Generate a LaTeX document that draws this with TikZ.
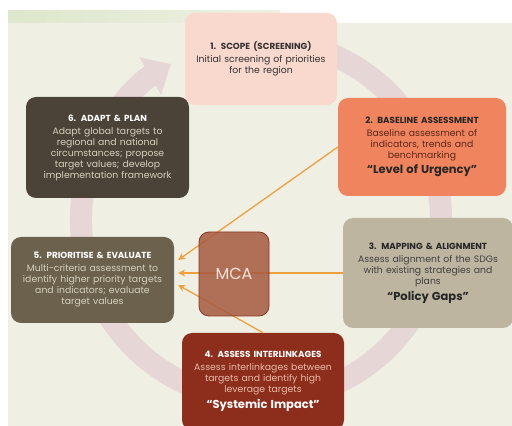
\documentclass[tikz,border=0pt]{standalone}
\usepackage{fontspec}
\setmainfont{Poppins}
\usetikzlibrary{arrows.meta}

\definecolor{bgc}{HTML}{EFF0E3}
\definecolor{topgreen}{HTML}{DDE7CC}
\definecolor{ringc}{HTML}{E6D6D6}
\definecolor{flowc}{HTML}{EFA03C}
\definecolor{scopec}{HTML}{F9D8CD}
\definecolor{basec}{HTML}{F0845F}
\definecolor{basetxt}{HTML}{5A2818}
\definecolor{mapc}{HTML}{BEB5A0}
\definecolor{interc}{HTML}{8C2E1B}
\definecolor{intertxt}{HTML}{E6BBAA}
\definecolor{prioc}{HTML}{6B614D}
\definecolor{adaptc}{HTML}{4B4337}
\definecolor{softtxt}{HTML}{D6D0BE}
\definecolor{mcac}{HTML}{A65A40}
\definecolor{mcaline}{HTML}{8A3520}
\definecolor{mcatxt}{HTML}{F4E4DC}

\newcommand{\headfont}{\fontsize{8.8}{11}\selectfont\bfseries}
\newcommand{\quotefont}{\fontsize{11.5}{13}\selectfont\bfseries}

\begin{document}
\begin{tikzpicture}[x=1pt,y=1pt,
  stage/.style={rounded corners=10pt, align=center, inner xsep=3pt, inner ysep=2pt,
    font=\fontsize{9.3}{11}\selectfont},
  flow/.style={draw=flowc, line width=1.3pt, -{Stealth[length=7pt,width=7pt]}},
  ring/.style={draw=ringc, line width=22pt, -{Triangle[width=42pt,length=24pt]}}]

\useasboundingbox (0,0) rectangle (512,426);
\fill[bgc] (8,0) rectangle (512,403);
\fill[left color=topgreen, right color=bgc] (8,403) rectangle (280,415);

% cycle
\draw[ring] (261,206) ++(70:180) arc[start angle=70, end angle=-240, radius=180];

\node[stage, fill=scopec, text=black!80, minimum width=152pt, minimum height=92pt, text width=146pt]
  (scope) at (261,367)
  {{\headfont 1. SCOPE (SCREENING)}\\[2pt]
   Initial screening of priorities\\for the region};

\node[stage, fill=basec, text=black!85, minimum width=168pt, minimum height=98pt, text width=162pt]
  (base) at (422,279)
  {{\headfont 2. BASELINE ASSESSMENT}\\[2pt]
   {\color{basetxt}Baseline assessment of\\indicators, trends and\\benchmarking}\\[3pt]
   {\quotefont “Level of Urgency”}};

\node[stage, fill=mapc, text=black!85, minimum width=170pt, minimum height=110pt, text width=164pt]
  (map) at (428,153)
  {{\headfont 3. MAPPING \& ALIGNMENT}\\[2pt]
   {\color{black!75}Assess alignment of the SDGs\\with existing strategies and\\plans}\\[3pt]
   {\quotefont “Policy Gaps”}};

\node[stage, fill=interc, text=white, minimum width=162pt, minimum height=97pt, text width=156pt]
  (inter) at (263,44.5)
  {{\headfont 4. ASSESS INTERLINKAGES}\\[2pt]
   {\color{intertxt}Assess interlinkages between\\targets and identify high\\leverage targets}\\[3pt]
   {\quotefont “Systemic Impact”}};

\node[stage, fill=prioc, text=white, minimum width=163pt, minimum height=86pt, text width=157pt]
  (prio) at (92.5,146)
  {{\headfont 5. PRIORITISE \& EVALUATE}\\[2pt]
   {\color{softtxt}Multi-criteria assessment to\\identify higher priority targets\\and indicators; evaluate\\target values}};

\node[stage, fill=adaptc, text=white, minimum width=163pt, minimum height=101pt, text width=157pt]
  (adapt) at (107.5,278.5)
  {{\headfont 6. ADAPT \& PLAN}\\[2pt]
   {\color{softtxt}Adapt global targets to\\regional and national\\circumstances; propose\\target values; develop\\implementation framework}};

% feeds into prioritisation
\draw[flow] (base.west) -- ([shift={(4pt,20pt)}]prio.east);
\draw[flow] (map.west) -- ([shift={(4pt,7pt)}]prio.east);
\draw[flow] (inter.north) -- ([shift={(4pt,-5pt)}]prio.east);

\node[rounded corners=10pt, fill=mcac, fill opacity=0.85, draw=mcaline, line width=0.8pt,
  text opacity=1, text=mcatxt, minimum width=70pt, minimum height=84pt,
  font=\fontsize{16}{18}\selectfont] (mca) at (234,152) {MCA};

\end{tikzpicture}
\end{document}
